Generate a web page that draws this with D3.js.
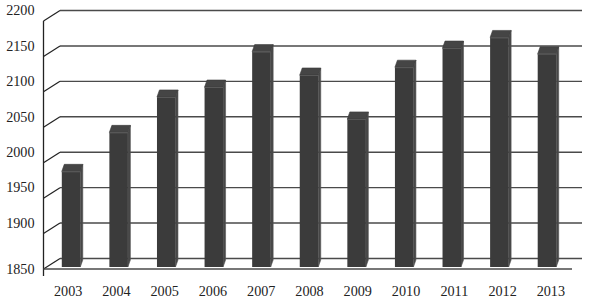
<!DOCTYPE html>
<html>
<head>
<meta charset="utf-8">
<script src="https://cdn.jsdelivr.net/npm/d3@7"></script>
<style>
  html, body { margin: 0; padding: 0; background: #fff; }
  svg { display: block; }
  text { font-family: "Liberation Serif", "DejaVu Serif", serif; fill: #222; }
</style>
</head>
<body>
<script>
const years = ["2003","2004","2005","2006","2007","2008","2009","2010","2011","2012","2013"];
const values = [1985, 2040, 2090, 2104, 2154, 2121, 2059, 2132, 2159, 2174, 2151];
const yTicks = [1850, 1900, 1950, 2000, 2050, 2100, 2150, 2200];

const W = 589, H = 303;
const svg = d3.select("body").append("svg").attr("width", W).attr("height", H);

// front plane scale, back wall offset
const yFront = d3.scaleLinear().domain([1850, 2200]).range([269, 21]);
const yFace = d3.scaleLinear().domain([1850, 2200]).range([267, 19]);
const DX = 16.5, DY = -10.5;
const axisX = 43.5, backRight = 582, floorRight = 572;

const xBar = d3.scaleBand().domain(years).range([48.5, 572]).paddingInner(0).paddingOuter(0);
const xLab = d3.scaleBand().domain(years).range([44, 575]);

// back wall gridlines + diagonals
const g = svg.append("g");
yTicks.forEach(v => {
  const yb = yFront(v) + DY;
  g.append("line").attr("x1", axisX + DX).attr("x2", backRight)
    .attr("y1", yb).attr("y2", yb)
    .attr("stroke", "#4a4a4a").attr("stroke-width", 1.4);
  g.append("line").attr("x1", axisX).attr("y1", yFront(v))
    .attr("x2", axisX + DX).attr("y2", yb)
    .attr("stroke", "#222").attr("stroke-width", 1.2);
});

// front axis
g.append("line").attr("x1", axisX).attr("x2", axisX)
  .attr("y1", yFront(2200)).attr("y2", yFront(1850) + 7)
  .attr("stroke", "#222").attr("stroke-width", 1.3);
g.append("line").attr("x1", axisX).attr("x2", floorRight)
  .attr("y1", yFront(1850)).attr("y2", yFront(1850))
  .attr("stroke", "#4a4a4a").attr("stroke-width", 1.4);

// bars
const bw = 18.5, sd = 2.5, td = 7;
const bars = svg.append("g");
years.forEach((yr, i) => {
  const c = xBar(yr) + xBar.bandwidth() / 2;
  const x0 = c - 10.5, x1 = x0 + bw;
  const yt = yFace(values[i]), yb = yFace(1850);
  bars.append("polygon")
    .attr("points", [[x1, yb], [x1 + sd, yb - td], [x1 + sd, yt - td], [x1, yt]].map(p => p.join(",")).join(" "))
    .attr("fill", "#474747").attr("stroke", "#555").attr("stroke-width", 0.6);
  bars.append("polygon")
    .attr("points", [[x0, yt], [x0 + sd, yt - td], [x1 + sd, yt - td], [x1, yt]].map(p => p.join(",")).join(" "))
    .attr("fill", "#454545").attr("stroke", "#3a3a3a").attr("stroke-width", 0.6);
  bars.append("rect").attr("x", x0).attr("y", yt).attr("width", bw).attr("height", yb - yt)
    .attr("fill", "#3b3b3b");
  bars.append("line").attr("x1", x0).attr("x2", x1).attr("y1", yt + 0.5).attr("y2", yt + 0.5)
    .attr("stroke", "#5a5a5a").attr("stroke-width", 1);
});

// y labels
yTicks.forEach((v, i) => {
  const y = i === 0 ? yFront(v) : yFront(v) + DY;
  svg.append("text").attr("x", 34.5).attr("y", y).attr("dy", "0.34em")
    .attr("text-anchor", "end").attr("font-size", 14.2).text(v);
});

// x labels
years.forEach(yr => {
  svg.append("text").attr("x", xLab(yr) + xLab.bandwidth() / 2).attr("y", 291).attr("dy", "0.34em")
    .attr("text-anchor", "middle").attr("font-size", 14.2).text(yr);
});
</script>
</body>
</html>
